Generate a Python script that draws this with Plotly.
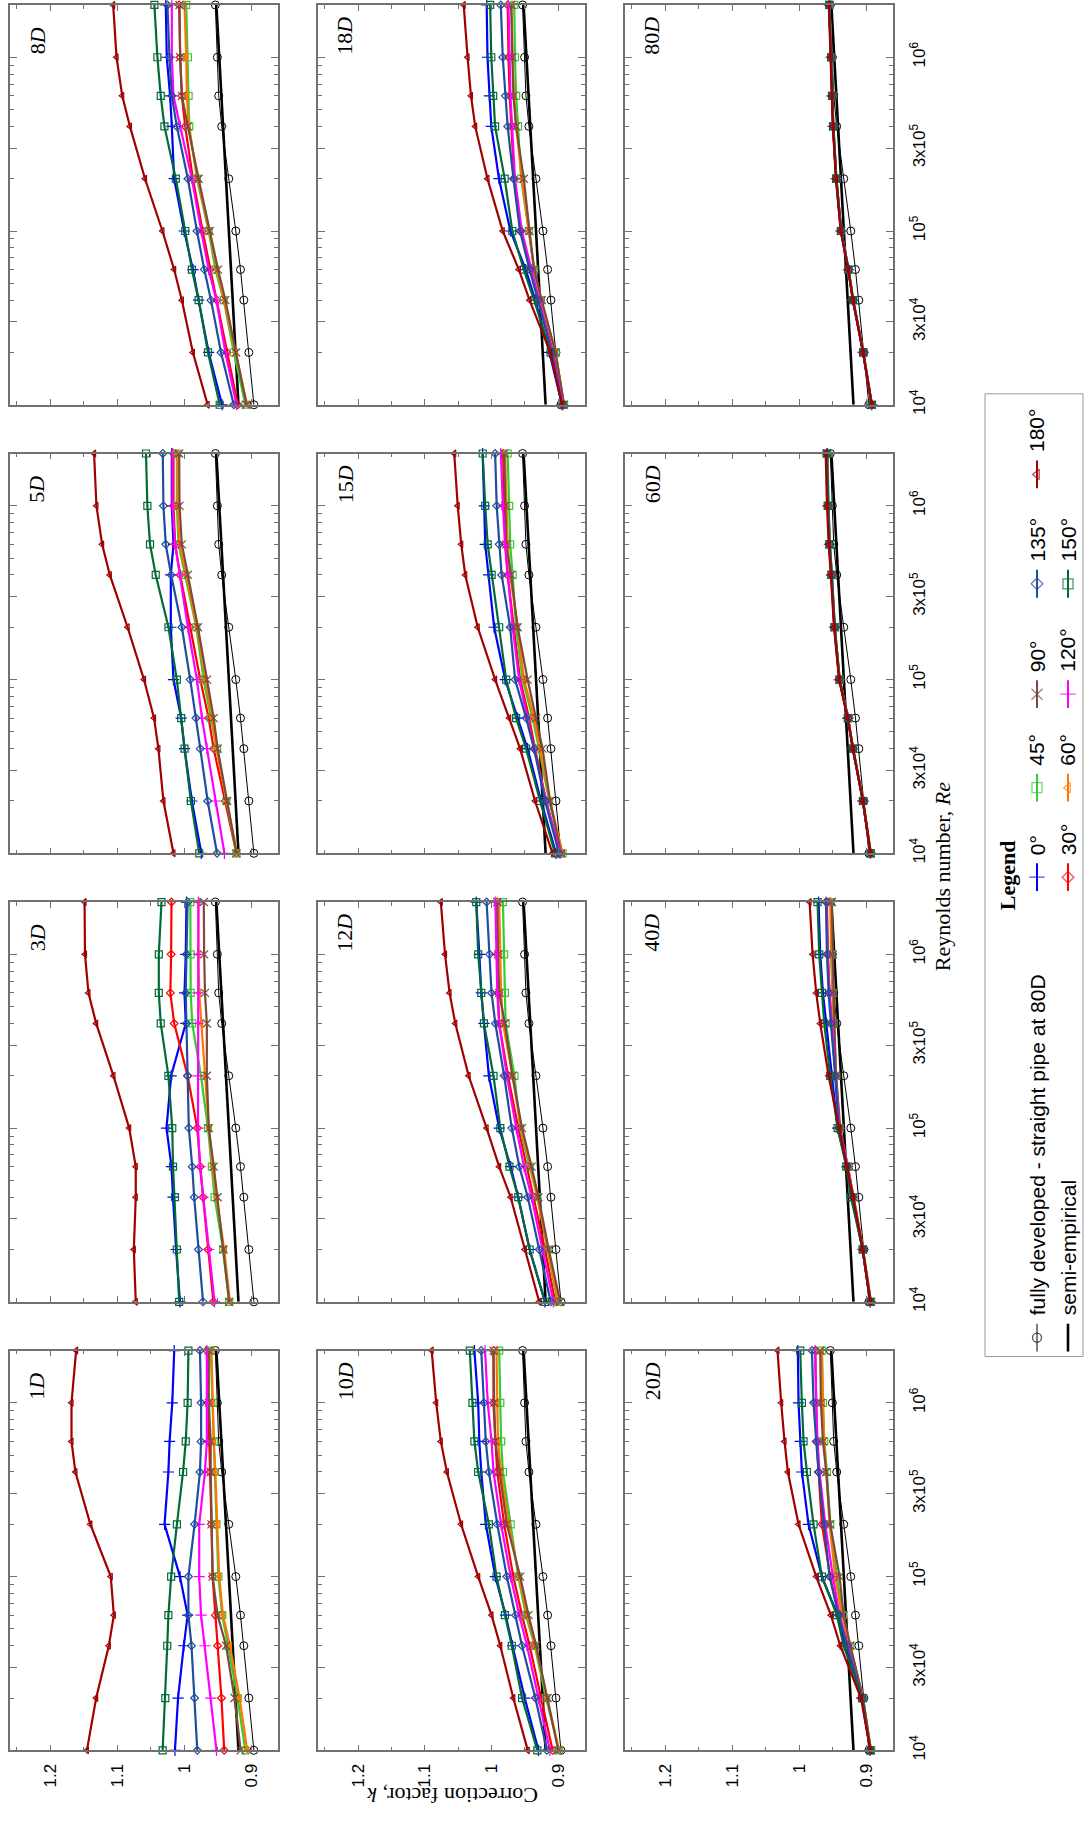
import math
import plotly.graph_objects as go

W, H = 1084, 1825

# ---------------- data ----------------
RE = [1e4, 2e4, 4e4, 6e4, 1e5, 2e5, 4e5, 6e5, 1e6, 2e6]
ANGLES = ['0°', '30°', '45°', '60°', '90°', '120°', '135°', '150°', '180°']
COLORS = ['#0000FF', '#FF0000', '#33CC33', '#FF7700', '#7B4A3A',
          '#FF00FF', '#1F4E9C', '#006B35', '#A00000']
SYMBOLS = ['cross-thin-open', 'diamond-open', 'square-open', 'triangle-left-open',
           'x-thin-open', 'cross-thin-open', 'diamond-open', 'square-open',
           'triangle-left-open']
SIZES = [8, 6, 7, 6, 8, 8, 6, 7, 6]

FD_NAME = 'fully developed - straight pipe at 80D'
SEMI_NAME = 'semi-empirical'
FULLY = [0.896, 0.9035, 0.911, 0.916, 0.923, 0.9335, 0.944, 0.9485, 0.9505, 0.9535]
SEMI = [0.919, 0.9232, 0.9274, 0.9300, 0.9332, 0.9376, 0.9420, 0.9446, 0.9478, 0.9520]

# k values per panel, rows in ANGLES order
K_1D = [
    [1.0138, 1.0092, 1.0006, 0.9949, 1.0063, 1.0293, 1.0236, 1.0218, 1.0178, 1.0149],
    [0.9403, 0.9444, 0.9501, 0.9535, 0.9576, 0.9593, 0.9616, 0.9633, 0.9644, 0.9662],
    [0.9088, 0.9203, 0.9346, 0.9432, 0.9490, 0.9518, 0.9547, 0.9558, 0.9576, 0.9604],
    [0.9059, 0.9174, 0.9317, 0.9421, 0.9478, 0.9501, 0.9535, 0.9558, 0.9576, 0.9593],
    [0.9157, 0.9249, 0.9375, 0.9501, 0.9576, 0.9593, 0.9604, 0.9604, 0.9633, 0.9633],
    [0.9518, 0.9604, 0.9690, 0.9748, 0.9776, 0.9776, 0.9690, 0.9662, 0.9662, 0.9662],
    [0.9805, 0.9845, 0.9891, 0.9937, 0.9937, 0.9845, 0.9765, 0.9748, 0.9748, 0.9765],
    [1.0322, 1.0282, 1.0253, 1.0236, 1.0195, 1.0109, 1.0017, 0.9977, 0.9949, 0.9937],
    [1.1452, 1.1314, 1.1125, 1.1050, 1.1096, 1.1400, 1.1624, 1.1682, 1.1682, 1.1613],
]
K_3D = [
    [1.0063, 1.0121, 1.0167, 1.0190, 1.0264, 1.0195, 0.9977, 0.9995, 0.9977, 0.9966],
    [0.9564, 0.9644, 0.9719, 0.9759, 0.9805, 0.9949, 1.0149, 1.0207, 1.0195, 1.0190],
    [0.9329, 0.9420, 0.9547, 0.9587, 0.9645, 0.9750, 0.9880, 0.9903, 0.9903, 0.9909],
    [0.9317, 0.9403, 0.9518, 0.9576, 0.9633, 0.9690, 0.9748, 0.9776, 0.9788, 0.9788],
    [0.9329, 0.9415, 0.9501, 0.9558, 0.9633, 0.9662, 0.9662, 0.9690, 0.9702, 0.9708],
    [0.9547, 0.9633, 0.9719, 0.9765, 0.9794, 0.9794, 0.9794, 0.9794, 0.9788, 0.9788],
    [0.9719, 0.9788, 0.9851, 0.9880, 0.9931, 0.9949, 0.9966, 0.9977, 0.9966, 0.9949],
    [1.0075, 1.0110, 1.0138, 1.0167, 1.0178, 1.0236, 1.0350, 1.0379, 1.0379, 1.0339],
    [1.0723, 1.0752, 1.0723, 1.0723, 1.0821, 1.1056, 1.1314, 1.1429, 1.1481, 1.1487],
]
K_5D = [
    [0.9745, 0.9885, 0.9995, 1.0045, 1.0160, 1.0200, 1.0200, 1.0160, 1.0185, 1.0185],
    [0.9220, 0.9385, 0.9560, 0.9635, 0.9760, 0.9910, 1.0060, 1.0135, 1.0160, 1.0160],
    [0.9220, 0.9370, 0.9510, 0.9600, 0.9710, 0.9820, 0.9985, 1.0085, 1.0110, 1.0110],
    [0.9210, 0.9360, 0.9520, 0.9585, 0.9685, 0.9810, 0.9970, 1.0070, 1.0095, 1.0100],
    [0.9220, 0.9360, 0.9500, 0.9560, 0.9660, 0.9795, 0.9945, 1.0035, 1.0070, 1.0075],
    [0.9400, 0.9535, 0.9660, 0.9735, 0.9810, 0.9945, 1.0060, 1.0135, 1.0175, 1.0175],
    [0.9510, 0.9650, 0.9760, 0.9825, 0.9910, 1.0035, 1.0195, 1.0275, 1.0310, 1.0320],
    [0.9775, 0.9900, 0.9995, 1.0045, 1.0110, 1.0235, 1.0425, 1.0510, 1.0550, 1.0570],
    [1.0160, 1.0310, 1.0385, 1.0450, 1.0600, 1.0845, 1.1110, 1.1225, 1.1310, 1.1345],
]
K_8D = [
    [0.9435, 0.9635, 0.9785, 0.9870, 1.0000, 1.0150, 1.0185, 1.0210, 1.0260, 1.0275],
    [0.9200, 0.9360, 0.9510, 0.9610, 0.9725, 0.9870, 0.9985, 1.0035, 1.0060, 1.0075],
    [0.9085, 0.9260, 0.9410, 0.9535, 0.9635, 0.9810, 0.9925, 0.9935, 0.9945, 0.9970],
    [0.9060, 0.9235, 0.9400, 0.9510, 0.9625, 0.9800, 0.9935, 0.9960, 0.9970, 0.9995],
    [0.9070, 0.9225, 0.9385, 0.9495, 0.9620, 0.9785, 0.9945, 1.0035, 1.0060, 1.0070],
    [0.9220, 0.9385, 0.9520, 0.9635, 0.9745, 0.9885, 1.0060, 1.0160, 1.0185, 1.0185],
    [0.9260, 0.9450, 0.9600, 0.9700, 0.9810, 0.9945, 1.0110, 1.0185, 1.0220, 1.0250],
    [0.9470, 0.9645, 0.9785, 0.9885, 0.9985, 1.0125, 1.0295, 1.0350, 1.0400, 1.0445],
    [0.9650, 0.9870, 1.0035, 1.0150, 1.0325, 1.0585, 1.0810, 1.0925, 1.1010, 1.1060],
]
K_10D = [
    [0.9297, 0.9503, 0.9686, 0.9789, 0.9943, 1.0086, 1.0154, 1.0183, 1.0200, 1.0257],
    [0.9086, 0.9257, 0.9429, 0.9543, 0.9674, 0.9811, 0.9914, 0.9943, 0.9971, 0.9971],
    [0.8989, 0.9183, 0.9354, 0.9486, 0.9600, 0.9714, 0.9829, 0.9857, 0.9869, 0.9886],
    [0.8989, 0.9171, 0.9343, 0.9469, 0.9583, 0.9743, 0.9857, 0.9903, 0.9914, 0.9926],
    [0.9000, 0.9160, 0.9331, 0.9446, 0.9571, 0.9771, 0.9886, 0.9943, 0.9960, 0.9971],
    [0.9126, 0.9297, 0.9469, 0.9583, 0.9714, 0.9857, 0.9971, 1.0000, 1.0057, 1.0097],
    [0.9171, 0.9343, 0.9543, 0.9640, 0.9771, 0.9914, 1.0040, 1.0086, 1.0114, 1.0154],
    [0.9314, 0.9543, 0.9697, 0.9800, 0.9926, 1.0040, 1.0200, 1.0257, 1.0286, 1.0326],
    [0.9457, 0.9674, 0.9869, 1.0000, 1.0200, 1.0457, 1.0669, 1.0760, 1.0829, 1.0897],
]
K_12D = [
    [0.9200, 0.9429, 0.9600, 0.9714, 0.9886, 1.0040, 1.0114, 1.0154, 1.0183, 1.0229],
    [0.9046, 0.9200, 0.9371, 0.9469, 0.9600, 0.9754, 0.9886, 0.9903, 0.9914, 0.9914],
    [0.9011, 0.9160, 0.9314, 0.9429, 0.9571, 0.9657, 0.9789, 0.9800, 0.9811, 0.9829],
    [0.9000, 0.9154, 0.9314, 0.9411, 0.9560, 0.9686, 0.9829, 0.9857, 0.9869, 0.9886],
    [0.8971, 0.9143, 0.9297, 0.9400, 0.9543, 0.9686, 0.9800, 0.9886, 0.9903, 0.9914],
    [0.9074, 0.9240, 0.9400, 0.9514, 0.9629, 0.9771, 0.9886, 0.9914, 0.9931, 0.9943],
    [0.9114, 0.9286, 0.9457, 0.9583, 0.9697, 0.9811, 0.9943, 1.0000, 1.0029, 1.0074],
    [0.9200, 0.9429, 0.9600, 0.9731, 0.9869, 0.9971, 1.0114, 1.0154, 1.0200, 1.0229],
    [0.9286, 0.9503, 0.9714, 0.9886, 1.0074, 1.0343, 1.0543, 1.0629, 1.0697, 1.0760],
]
K_15D = [
    [0.9034, 0.9258, 0.9460, 0.9609, 0.9796, 0.9961, 1.0043, 1.0095, 1.0110, 1.0133],
    [0.8974, 0.9183, 0.9348, 0.9437, 0.9572, 0.9662, 0.9759, 0.9796, 0.9811, 0.9826],
    [0.8936, 0.9138, 0.9288, 0.9385, 0.9535, 0.9632, 0.9684, 0.9721, 0.9736, 0.9759],
    [0.8936, 0.9123, 0.9273, 0.9363, 0.9512, 0.9609, 0.9721, 0.9759, 0.9774, 0.9796],
    [0.8959, 0.9123, 0.9236, 0.9333, 0.9460, 0.9609, 0.9707, 0.9781, 0.9796, 0.9811],
    [0.8974, 0.9183, 0.9363, 0.9460, 0.9587, 0.9684, 0.9759, 0.9796, 0.9830, 0.9860],
    [0.8989, 0.9198, 0.9363, 0.9482, 0.9647, 0.9721, 0.9849, 0.9886, 0.9923, 0.9946],
    [0.9049, 0.9273, 0.9482, 0.9632, 0.9781, 0.9886, 0.9998, 1.0058, 1.0095, 1.0133],
    [0.9086, 0.9348, 0.9572, 0.9736, 0.9946, 1.0207, 1.0394, 1.0454, 1.0507, 1.0559],
]
K_18D = [
    [0.8944, 0.9133, 0.9345, 0.9488, 0.9717, 0.9889, 1.0004, 1.0033, 1.0061, 1.0073],
    [0.8927, 0.9076, 0.9288, 0.9402, 0.9557, 0.9660, 0.9700, 0.9729, 0.9746, 0.9758],
    [0.8915, 0.9041, 0.9259, 0.9362, 0.9442, 0.9557, 0.9603, 0.9632, 0.9649, 0.9660],
    [0.8915, 0.9041, 0.9259, 0.9362, 0.9442, 0.9546, 0.9632, 0.9660, 0.9683, 0.9700],
    [0.8915, 0.9041, 0.9248, 0.9362, 0.9431, 0.9517, 0.9632, 0.9672, 0.9689, 0.9706],
    [0.8932, 0.9087, 0.9288, 0.9402, 0.9546, 0.9649, 0.9689, 0.9717, 0.9729, 0.9746],
    [0.8944, 0.9099, 0.9305, 0.9431, 0.9574, 0.9672, 0.9758, 0.9792, 0.9832, 0.9861],
    [0.8944, 0.9116, 0.9362, 0.9517, 0.9689, 0.9803, 0.9947, 0.9975, 1.0004, 1.0021],
    [0.8944, 0.9120, 0.9431, 0.9591, 0.9832, 1.0061, 1.0245, 1.0308, 1.0359, 1.0417],
]
K_20D = [
    [0.8939, 0.9063, 0.9312, 0.9427, 0.9661, 0.9861, 0.9960, 0.9985, 1.0010, 1.0020],
    [0.8939, 0.9063, 0.9277, 0.9412, 0.9537, 0.9661, 0.9711, 0.9736, 0.9746, 0.9761],
    [0.8929, 0.9048, 0.9237, 0.9347, 0.9437, 0.9537, 0.9586, 0.9626, 0.9646, 0.9661],
    [0.8929, 0.9048, 0.9247, 0.9362, 0.9462, 0.9547, 0.9596, 0.9626, 0.9646, 0.9661],
    [0.8929, 0.9048, 0.9237, 0.9337, 0.9397, 0.9537, 0.9596, 0.9646, 0.9676, 0.9686],
    [0.8939, 0.9063, 0.9277, 0.9397, 0.9497, 0.9611, 0.9696, 0.9726, 0.9746, 0.9761],
    [0.8939, 0.9063, 0.9287, 0.9412, 0.9547, 0.9626, 0.9711, 0.9746, 0.9786, 0.9810],
    [0.8939, 0.9063, 0.9337, 0.9437, 0.9661, 0.9786, 0.9885, 0.9935, 0.9960, 0.9985],
    [0.8939, 0.9078, 0.9387, 0.9527, 0.9746, 1.0010, 1.0169, 1.0219, 1.0269, 1.0324],
]
K_40D = [
    [0.8939, 0.9053, 0.9213, 0.9287, 0.9427, 0.9512, 0.9596, 0.9646, 0.9686, 0.9711],
    [0.8939, 0.9053, 0.9198, 0.9277, 0.9402, 0.9462, 0.9512, 0.9547, 0.9571, 0.9586],
    [0.8929, 0.9048, 0.9188, 0.9277, 0.9397, 0.9447, 0.9487, 0.9502, 0.9527, 0.9527],
    [0.8929, 0.9048, 0.9188, 0.9272, 0.9397, 0.9452, 0.9487, 0.9502, 0.9512, 0.9537],
    [0.8929, 0.9048, 0.9188, 0.9272, 0.9387, 0.9452, 0.9477, 0.9487, 0.9497, 0.9512],
    [0.8939, 0.9053, 0.9198, 0.9277, 0.9402, 0.9462, 0.9512, 0.9547, 0.9576, 0.9596],
    [0.8939, 0.9053, 0.9203, 0.9287, 0.9412, 0.9462, 0.9527, 0.9561, 0.9586, 0.9601],
    [0.8939, 0.9053, 0.9228, 0.9297, 0.9427, 0.9537, 0.9626, 0.9661, 0.9701, 0.9726],
    [0.8939, 0.9053, 0.9198, 0.9287, 0.9402, 0.9561, 0.9686, 0.9746, 0.9800, 0.9845],
]
K_60D = [
    [0.8936, 0.9049, 0.9198, 0.9273, 0.9400, 0.9468, 0.9512, 0.9542, 0.9565, 0.9580],
    [0.8936, 0.9049, 0.9198, 0.9273, 0.9400, 0.9475, 0.9520, 0.9550, 0.9572, 0.9590],
    [0.8930, 0.9045, 0.9195, 0.9270, 0.9395, 0.9468, 0.9512, 0.9542, 0.9562, 0.9575],
    [0.8930, 0.9045, 0.9195, 0.9270, 0.9395, 0.9470, 0.9515, 0.9545, 0.9565, 0.9580],
    [0.8930, 0.9045, 0.9195, 0.9270, 0.9395, 0.9470, 0.9518, 0.9548, 0.9570, 0.9585],
    [0.8936, 0.9049, 0.9198, 0.9273, 0.9400, 0.9475, 0.9520, 0.9550, 0.9572, 0.9590],
    [0.8936, 0.9049, 0.9198, 0.9273, 0.9400, 0.9472, 0.9515, 0.9545, 0.9568, 0.9585],
    [0.8936, 0.9049, 0.9200, 0.9275, 0.9400, 0.9475, 0.9520, 0.9552, 0.9575, 0.9592],
    [0.8936, 0.9049, 0.9200, 0.9278, 0.9405, 0.9480, 0.9528, 0.9560, 0.9585, 0.9605],
]
K_80D = [
    [0.8920, 0.9046, 0.9196, 0.9262, 0.9372, 0.9444, 0.9490, 0.9506, 0.9520, 0.9548],
    [0.8917, 0.9044, 0.9195, 0.9265, 0.9375, 0.9447, 0.9493, 0.9508, 0.9522, 0.9551],
    [0.8914, 0.9042, 0.9192, 0.9262, 0.9373, 0.9445, 0.9490, 0.9505, 0.9519, 0.9546],
    [0.8914, 0.9042, 0.9193, 0.9263, 0.9374, 0.9446, 0.9491, 0.9506, 0.9520, 0.9548],
    [0.8915, 0.9043, 0.9194, 0.9264, 0.9375, 0.9447, 0.9492, 0.9507, 0.9521, 0.9550],
    [0.8917, 0.9044, 0.9196, 0.9266, 0.9376, 0.9448, 0.9494, 0.9509, 0.9523, 0.9552],
    [0.8918, 0.9045, 0.9196, 0.9265, 0.9376, 0.9448, 0.9494, 0.9510, 0.9525, 0.9553],
    [0.8918, 0.9046, 0.9199, 0.9268, 0.9378, 0.9449, 0.9495, 0.9510, 0.9524, 0.9552],
    [0.8919, 0.9047, 0.9200, 0.9270, 0.9380, 0.9452, 0.9498, 0.9514, 0.9528, 0.9558],
]

PANEL_LABELS = ['8', '18', '80', '5', '15', '60', '3', '12', '40', '1', '10', '20']
PANEL_DATA = [K_8D, K_18D, K_80D, K_5D, K_15D, K_60D, K_3D, K_12D, K_40D, K_1D, K_10D, K_20D]

K_TICKS = [0.9, 1.0, 1.1, 1.2]
K_TICKTEXT = ['0.9', '1', '1.1', '1.2']
RE_TICKS = [1e4, 3e4, 1e5, 3e5, 1e6]
RE_TICKTEXT = ['10<sup>4</sup>', '3x10<sup>4</sup>', '10<sup>5</sup>',
               '3x10<sup>5</sup>', '10<sup>6</sup>']

# ---------------- layout geometry (pixels) ----------------
COLS = [(10, 278), (318, 585), (625, 893)]
ROWS = [(5, 407), (456, 858), (907, 1309), (1358, 1760)]

def pxx(x):
    return x / W

def pxy(y):
    return 1 - y / H

SANS = 'Arial, Liberation Sans, sans-serif'
SERIF = 'Times New Roman, Liberation Serif, serif'
AXC = '#707070'

fig = go.Figure()
annotations = []
shapes = []

minor_re = [m * 10 ** e for e in (4, 5) for m in (2, 4, 5, 6, 7, 8, 9)] + [2e6]
minor_re = [v for v in minor_re if v not in RE_TICKS]

for i, (lab, data) in enumerate(zip(PANEL_LABELS, PANEL_DATA)):
    r, c = divmod(i, 3)
    n = i + 1
    xa = 'x' if n == 1 else f'x{n}'
    ya = 'y' if n == 1 else f'y{n}'
    xl, xr = COLS[c]
    yt, yb = ROWS[r]

    fig.add_trace(go.Scatter(x=SEMI, y=RE, mode='lines', xaxis=xa, yaxis=ya,
                             line=dict(color='black', width=2.6), showlegend=False,
                             cliponaxis=False))
    fig.add_trace(go.Scatter(x=FULLY, y=RE, mode='lines+markers', xaxis=xa, yaxis=ya,
                             line=dict(color='black', width=1),
                             marker=dict(symbol='circle-open', size=8, color='black',
                                         line=dict(width=1)),
                             showlegend=False, cliponaxis=False))
    for j in range(len(ANGLES)):
        fig.add_trace(go.Scatter(x=data[j], y=RE, mode='lines+markers', xaxis=xa, yaxis=ya,
                                 line=dict(color=COLORS[j], width=2.2),
                                 marker=dict(symbol=SYMBOLS[j], size=SIZES[j], color=COLORS[j],
                                             line=dict(width=1.2, color=COLORS[j])),
                                 showlegend=False, cliponaxis=False))

    xkey = 'xaxis' if n == 1 else f'xaxis{n}'
    ykey = 'yaxis' if n == 1 else f'yaxis{n}'
    fig.layout[xkey] = dict(
        domain=[pxx(xl), pxx(xr)], anchor=ya, range=[1.26, 0.86],
        tickvals=K_TICKS, ticktext=K_TICKTEXT, ticks='inside', ticklen=6,
        tickcolor=AXC, tickwidth=1, showline=True, linecolor=AXC, linewidth=1.5,
        mirror='ticks', showgrid=False, zeroline=False, tickangle=-90,
        showticklabels=(r == 3), ticklabelstandoff=5,
        tickfont=dict(family=SANS, size=17, color='black'),
        minor=dict(tickvals=[0.95, 1.05, 1.15, 1.25], ticks='inside', ticklen=4,
                   tickcolor=AXC, showgrid=False),
    )
    fig.layout[ykey] = dict(
        domain=[pxy(yb), pxy(yt)], anchor=xa, type='log',
        range=[4, math.log10(2e6)], tickvals=RE_TICKS, ticktext=RE_TICKTEXT,
        ticks='inside', ticklen=7, tickcolor=AXC, tickwidth=1, showline=True,
        linecolor=AXC, linewidth=1.5, mirror='ticks', showgrid=False, zeroline=False,
        side='right', tickangle=-90, showticklabels=(c == 2), ticklabelstandoff=10,
        tickfont=dict(family=SANS, size=17, color='black'),
        minor=dict(tickvals=minor_re, ticks='inside', ticklen=4, tickcolor=AXC,
                   showgrid=False),
    )
    annotations.append(dict(
        text=f'{lab}<i>D</i>', x=pxx(xl + 27), y=pxy(yt + 52), xref='paper', yref='paper',
        xanchor='center', yanchor='bottom', textangle=-90, showarrow=False,
        font=dict(family=SERIF, size=22, color='black')))

# axis titles
annotations.append(dict(text='Reynolds number, <i>Re</i>', x=pxx(942), y=pxy(882),
                        xref='paper', yref='paper', xanchor='center', yanchor='middle',
                        textangle=-90, showarrow=False,
                        font=dict(family=SERIF, size=22, color='black')))
annotations.append(dict(text='Correction factor, <i>k</i>', x=pxx(452), y=pxy(1806),
                        xref='paper', yref='paper', xanchor='center', yanchor='middle',
                        textangle=180, showarrow=False,
                        font=dict(family=SERIF, size=22, color='black')))

# ---------------- legend (drawn rotated, like the figure) ----------------
shapes.append(dict(type='rect', xref='paper', yref='paper', x0=pxx(985), x1=pxx(1083),
                   y0=pxy(1364), y1=pxy(396), line=dict(color='#999999', width=1)))
annotations.append(dict(text='<b>Legend</b>', x=pxx(1007), y=pxy(880), xref='paper',
                        yref='paper', xanchor='center', yanchor='middle', textangle=-90,
                        showarrow=False, font=dict(family=SERIF, size=22, color='black')))

LEG_X = [1037, 1068]
LEG_SLOTS = [1345, 882, 792, 698, 587, 477]
leg_entries = [
    (0, 0, FD_NAME, 'black', 'circle-open', 9, 1),
    (1, 0, SEMI_NAME, 'black', None, 0, 2.6),
]
order = [(0, 1), (1, 1), (0, 2), (1, 2), (0, 3), (1, 3), (0, 4), (1, 4), (0, 5)]
for j, (col, slot) in enumerate(order):
    leg_entries.append((col, slot, ANGLES[j], COLORS[j], SYMBOLS[j], SIZES[j] + 3, 2))

fig.layout['xaxis13'] = dict(domain=[0, 1], range=[0, W], visible=False, fixedrange=True,
                             anchor='y13')
fig.layout['yaxis13'] = dict(domain=[0, 1], range=[H, 0], visible=False, fixedrange=True,
                             anchor='x13')
for col, slot, name, color, sym, size, lw in leg_entries:
    lx = LEG_X[col]
    ly = LEG_SLOTS[slot]
    if sym is None:
        fig.add_trace(go.Scatter(x=[lx, lx], y=[ly - 14, ly + 14], mode='lines',
                                 xaxis='x13', yaxis='y13', line=dict(color=color, width=lw),
                                 showlegend=False, hoverinfo='skip', cliponaxis=False))
    else:
        fig.add_trace(go.Scatter(x=[lx, lx, lx], y=[ly - 14, ly, ly + 14],
                                 mode='lines+markers', xaxis='x13', yaxis='y13',
                                 line=dict(color=color, width=lw),
                                 marker=dict(symbol=sym, size=[0, size, 0], color=color,
                                             line=dict(width=1.3, color=color)),
                                 showlegend=False, hoverinfo='skip', cliponaxis=False))
    annotations.append(dict(text=name, x=pxx(lx), y=pxy(ly - 20), xref='paper',
                            yref='paper', xanchor='center', yanchor='bottom',
                            textangle=-90, showarrow=False,
                            font=dict(family=SANS, size=21, color='black')))

fig.update_layout(
    width=W, height=H, margin=dict(l=0, r=0, t=0, b=0),
    paper_bgcolor='white', plot_bgcolor='rgba(0,0,0,0)',
    showlegend=False, annotations=annotations, shapes=shapes,
)

fig.write_html('out.html', config={'displayModeBar': False},
               post_script="document.body.style.margin='0';")
